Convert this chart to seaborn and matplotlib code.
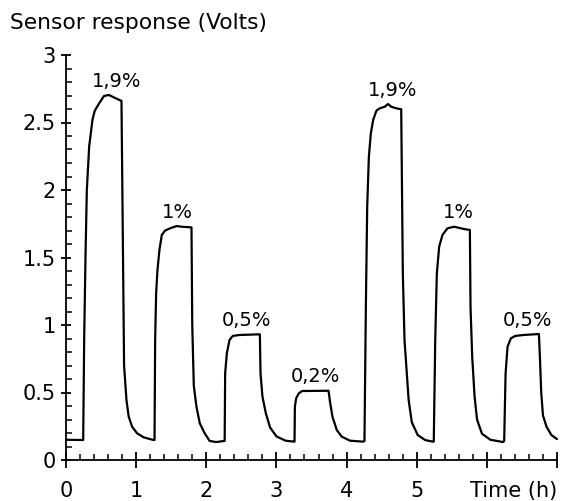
import numpy as np
import pandas as pd
import matplotlib
matplotlib.use("Agg")
import matplotlib.pyplot as plt
from matplotlib.ticker import MultipleLocator
import seaborn as sns

# ---- data ----
time_h = [0.0, 0.245,
          0.259, 0.278, 0.297, 0.330, 0.377, 0.410, 0.470, 0.541, 0.612, 0.706, 0.791,
          0.828, 0.862, 0.894, 0.942, 1.013, 1.106, 1.247,
          1.262, 1.271, 1.285, 1.304, 1.332, 1.366, 1.412, 1.483, 1.577, 1.648, 1.789,
          1.800, 1.822, 1.860, 1.907, 1.977, 2.048, 2.142, 2.255,
          2.262, 2.269, 2.293, 2.331, 2.378, 2.472, 2.764,
          2.773, 2.801, 2.849, 2.910, 3.000, 3.130, 3.249,
          3.258, 3.263, 3.281, 3.319, 3.366, 3.743,
          3.767, 3.799, 3.860, 3.931, 4.049, 4.237,
          4.255, 4.275, 4.294, 4.318, 4.346, 4.379, 4.426, 4.473, 4.544, 4.590, 4.637, 4.708, 4.779,
          4.802, 4.826, 4.885, 4.930, 5.014, 5.120, 5.226,
          5.243, 5.264, 5.287, 5.320, 5.367, 5.438, 5.532, 5.673, 5.758,
          5.767, 5.791, 5.825, 5.860, 5.930, 6.050, 6.230,
          6.247, 6.267, 6.295, 6.342, 6.403, 6.521, 6.742,
          6.756, 6.775, 6.800, 6.850, 6.920, 7.000]
volts = [0.150, 0.148,
         0.889, 1.506, 2.000, 2.320, 2.520, 2.587, 2.640, 2.696, 2.704, 2.680, 2.660,
         0.700, 0.444, 0.321, 0.247, 0.198, 0.168, 0.148,
         0.148, 0.889, 1.235, 1.407, 1.556, 1.667, 1.699, 1.716, 1.733, 1.728, 1.723,
         1.000, 0.550, 0.395, 0.272, 0.198, 0.141, 0.133, 0.141,
         0.141, 0.642, 0.790, 0.889, 0.919, 0.926, 0.931,
         0.642, 0.469, 0.346, 0.240, 0.175, 0.143, 0.136,
         0.136, 0.395, 0.457, 0.494, 0.511, 0.513,
         0.420, 0.321, 0.222, 0.173, 0.143, 0.136,
         0.140, 1.136, 1.876, 2.247, 2.420, 2.519, 2.588, 2.605, 2.617, 2.637, 2.617, 2.605, 2.598,
         1.383, 0.889, 0.444, 0.280, 0.185, 0.148, 0.136,
         0.136, 0.889, 1.383, 1.580, 1.667, 1.716, 1.728, 1.711, 1.704,
         1.136, 0.765, 0.470, 0.300, 0.195, 0.150, 0.133,
         0.140, 0.642, 0.839, 0.901, 0.919, 0.926, 0.933,
         0.765, 0.500, 0.330, 0.247, 0.185, 0.155]

conc_labels = ["1,9%", "1%", "0,5%", "0,2%", "1,9%", "1%", "0,5%"]
label_hours = [0.72, 1.59, 2.58, 3.55, 4.65, 5.60, 6.58]
peak_windows = [(0.2, 0.8), (1.25, 1.8), (2.25, 2.77), (3.25, 3.75),
                (4.25, 4.78), (5.24, 5.76), (6.24, 6.75)]

x_ticks = [0, 1, 2, 3, 4, 5, 6, 7]
x_tick_labels = ["0", "1", "2", "3", "4", "5", "", ""]
y_ticks = [0, 0.5, 1, 1.5, 2, 2.5, 3]
y_tick_labels = ["0", "0.5", "1", "1.5", "2", "2.5", "3"]

# ---- plot ----
sns.set_style("ticks")
plt.rcParams["font.family"] = ["DejaVu Sans"]

df = pd.DataFrame({"time": time_h, "volts": volts})

fig = plt.figure(figsize=(5.62, 5.01), dpi=100)
ax = fig.add_axes([66 / 562, 41 / 501, 491 / 562, 405 / 501])

sns.lineplot(data=df, x="time", y="volts", ax=ax, color="black",
             linewidth=1.6, estimator=None, sort=False)
ax.lines[0].set_clip_on(False)

ax.set_xlim(0, 7)
ax.set_ylim(0, 3)
ax.set_xlabel("")
ax.set_ylabel("")
sns.despine(ax=ax)
for side in ("left", "bottom"):
    ax.spines[side].set_linewidth(1.3)
    ax.spines[side].set_color("black")

ax.set_xticks(x_ticks, x_tick_labels)
ax.set_yticks(y_ticks, y_tick_labels)
ax.xaxis.set_minor_locator(MultipleLocator(0.2))
ax.yaxis.set_minor_locator(MultipleLocator(0.1))

ax.tick_params(axis="x", which="major", direction="inout", length=12, width=1.3,
               pad=9, labelsize=15, colors="black")
ax.tick_params(axis="y", which="major", direction="inout", length=7, width=1.3,
               pad=4, labelsize=15, colors="black")
ax.tick_params(which="minor", direction="in", length=4, width=1.1, colors="black")

vals = np.array(volts)
ts = np.array(time_h)
for lab, th, (a, b) in zip(conc_labels, label_hours, peak_windows):
    peak = vals[(ts >= a) & (ts <= b)].max()
    ax.annotate(lab, xy=(th, peak), xytext=(0, 10), textcoords="offset points",
                ha="center", va="center", fontsize=14, color="black")

fig.text(557 / 562, 1 - 491 / 501, "Time (h)", ha="right", va="center",
         fontsize=15, color="black")
fig.text(10 / 562, 1 - 23 / 501, "Sensor response (Volts)", ha="left",
         va="center", fontsize=15.7, color="black")

fig.savefig("out.png", dpi=100, facecolor="white")
